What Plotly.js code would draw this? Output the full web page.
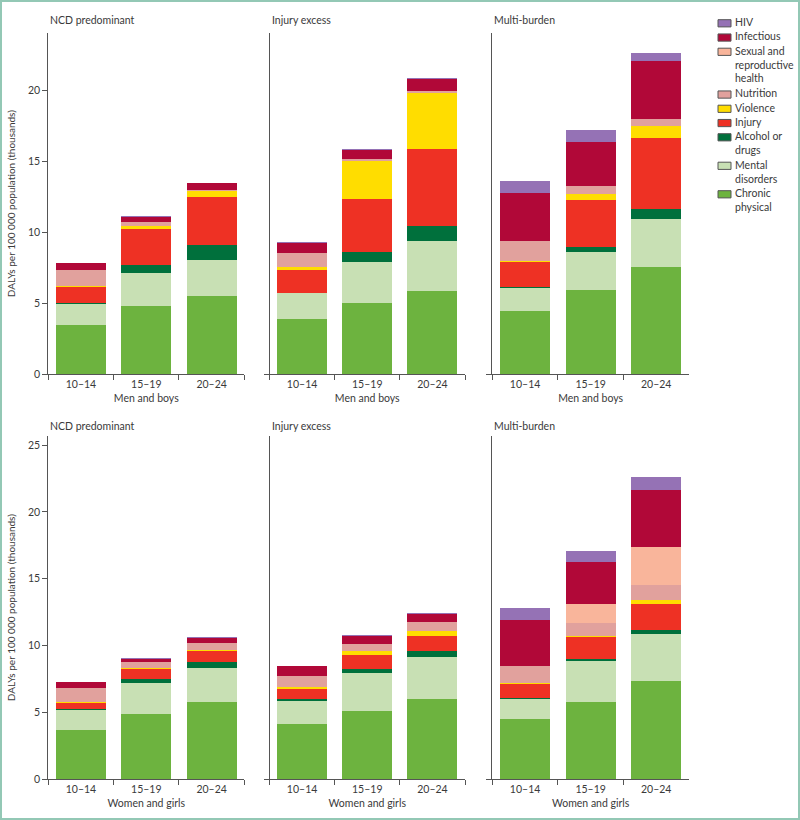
<!DOCTYPE html>
<html>
<head>
<meta charset="utf-8">
<script src="https://cdn.plot.ly/plotly-3.0.1.min.js"></script>
<style>
  html, body { margin: 0; padding: 0; background: #ffffff; }
  #chart { width: 800px; height: 820px; }
</style>
</head>
<body>
<div id="chart"></div>
<script>
// ---------------- DATA ----------------
const ages = ['10–14', '15–19', '20–24'];
const panelTitles = ['NCD predominant', 'Injury excess', 'Multi-burden',
                     'NCD predominant', 'Injury excess', 'Multi-burden'];
const sexLabels = ['Men and boys', 'Women and girls'];

// stacking order bottom -> top
const causes = ['Chronic physical', 'Mental disorders', 'Alcohol or drugs', 'Injury', 'Violence',
                'Nutrition', 'Sexual and reproductive health', 'Infectious', 'HIV'];
const legendLabels = ['Chronic<br>physical', 'Mental<br>disorders', 'Alcohol or<br>drugs', 'Injury', 'Violence',
                      'Nutrition', 'Sexual and<br>reproductive<br>health', 'Infectious', 'HIV'];

// DALYs per 100 000 (thousands); order of values:
// men NCD (3 ages), men injury excess, men multi-burden, women NCD, women injury excess, women multi-burden
const chronic   = [3.47, 4.81, 5.54,  3.89, 5.04, 5.85,  4.46, 5.94, 7.54,  3.69, 4.88, 5.76,  4.16, 5.08, 6.03,  4.49, 5.76, 7.35];
const mental    = [1.48, 2.30, 2.51,  1.81, 2.89, 3.52,  1.64, 2.65, 3.37,  1.50, 2.35, 2.59,  1.72, 2.89, 3.12,  1.54, 3.07, 3.52];
const alcohol   = [0.05, 0.59, 1.03,  0.05, 0.66, 1.10,  0.07, 0.37, 0.71,  0.05, 0.27, 0.45,  0.10, 0.28, 0.47,  0.05, 0.19, 0.32];
const injury    = [1.13, 2.51, 3.38,  1.60, 3.78, 5.40,  1.72, 3.29, 5.02,  0.49, 0.72, 0.77,  0.77, 1.02, 1.08,  1.02, 1.60, 1.94];
const violence  = [0.11, 0.26, 0.47,  0.23, 2.65, 3.92,  0.09, 0.45, 0.87,  0.08, 0.10, 0.10,  0.15, 0.30, 0.39,  0.08, 0.12, 0.28];
const nutrition = [1.11, 0.28, 0.05,  0.94, 0.16, 0.18,  1.43, 0.56, 0.49,  1.02, 0.43, 0.55,  0.85, 0.55, 0.65,  1.32, 0.95, 1.12];
const sexual    = [0.00, 0.00, 0.00,  0.00, 0.00, 0.00,  0.00, 0.00, 0.00,  0.00, 0.00, 0.00,  0.00, 0.00, 0.00,  0.00, 1.40, 2.87];
const infectious= [0.47, 0.33, 0.49,  0.70, 0.64, 0.80,  3.34, 3.12, 4.04,  0.42, 0.27, 0.35,  0.70, 0.60, 0.62,  3.39, 3.14, 4.24];
const hiv       = [0.03, 0.07, 0.03,  0.07, 0.07, 0.12,  0.86, 0.82, 0.59,  0.05, 0.08, 0.05,  0.05, 0.07, 0.10,  0.95, 0.87, 0.99];

const causeValues = [chronic, mental, alcohol, injury, violence, nutrition, sexual, infectious, hiv];
const causeColors = ['#6db33f', '#c8e0b4', '#00703c', '#ee3124', '#ffdd00',
                     '#e1a19d', '#f9b59b', '#b10838', '#9572b5'];

// ---------------- LAYOUT HELPERS ----------------
const W = 800, H = 820;
const px = v => v / W;
const py = v => (H - v) / H;
const colDomains = [[px(48.3), px(244.3)], [px(269.5), px(465)], [px(492.3), px(689)]];
const rowDomains = [[py(374.3), py(33)], [py(779.3), py(436)]];
const rowRanges = [[0, 24.03], [0, 25.68]];
const rowTicks = [[0, 5, 10, 15, 20], [0, 5, 10, 15, 20, 25]];
const titleY = [py(20), py(425.5)];

const FONT = 'Lato, "Noto Sans", sans-serif';
const TXT = '#3a3a3a';
const AX = '#555555';

const traces = [];
const layout = {
  width: W, height: H,
  margin: {l: 0, r: 0, t: 0, b: 0},
  paper_bgcolor: '#ffffff', plot_bgcolor: '#ffffff',
  barmode: 'stack',
  bargap: 0.235,
  showlegend: false,
  font: {family: FONT, size: 10.5, color: TXT},
  annotations: [],
  shapes: []
};

for (let p = 0; p < 6; p++) {
  const row = Math.floor(p / 3), col = p % 3;
  const sfx = p === 0 ? '' : String(p + 1);
  const xa = 'x' + sfx, ya = 'y' + sfx;
  causeValues.forEach((vals, c) => {
    traces.push({
      type: 'bar',
      x: ages,
      y: vals.slice(p * 3, p * 3 + 3),
      name: causes[c],
      xaxis: xa, yaxis: ya,
      marker: {color: causeColors[c], line: {width: 0}},
      hovertemplate: causes[c] + ': %{y}<extra></extra>'
    });
  });
  layout['xaxis' + sfx] = {
    domain: colDomains[col],
    anchor: ya,
    type: 'category',
    range: [-0.5, 2.5],
    tickson: 'boundaries',
    ticks: 'outside', ticklen: 5, tickcolor: AX, tickwidth: 1,
    showline: true, linecolor: AX, linewidth: 1,
    showgrid: false, zeroline: false,
    tickfont: {family: FONT, size: 10.5, color: TXT},
    title: {text: sexLabels[row], standoff: 5, font: {family: FONT, size: 10.5, color: TXT}},
    automargin: false,
    fixedrange: true
  };
  layout['yaxis' + sfx] = {
    domain: rowDomains[row],
    anchor: xa,
    range: rowRanges[row],
    tickmode: 'array',
    tickvals: col === 0 ? rowTicks[row] : [0],
    showticklabels: col === 0,
    ticks: 'outside', ticklen: 5, tickcolor: AX, tickwidth: 1,
    showline: true, linecolor: AX, linewidth: 1,
    showgrid: false, zeroline: false,
    tickfont: {family: FONT, size: 10.5, color: TXT},
    title: col === 0 ? {text: 'DALYs per 100 000 population (thousands)', standoff: 10,
                        font: {family: FONT, size: 10, color: TXT}} : {text: ''},
    automargin: false,
    fixedrange: true
  };
  layout.annotations.push({
    text: panelTitles[p], xref: xa + ' domain', yref: 'paper',
    x: 0, y: titleY[row], xanchor: 'left', yanchor: 'middle',
    showarrow: false, font: {family: FONT, size: 10.5, color: TXT}
  });
}

// ---------------- LEGEND (top -> bottom = reverse stacking order) ----------------
let lineIdx = 0;
for (let c = causes.length - 1; c >= 0; c--) {
  const cy = 23.3 + 14.25 * lineIdx;
  layout.shapes.push({
    type: 'rect', xref: 'paper', yref: 'paper',
    x0: px(718), x1: px(731), y0: py(cy + 3.6), y1: py(cy - 3.6),
    fillcolor: causeColors[c], line: {color: '#555555', width: 1}
  });
  layout.annotations.push({
    text: legendLabels[c], xref: 'paper', yref: 'paper',
    x: px(733), y: py(cy - 9.2), xanchor: 'left', yanchor: 'top', align: 'left',
    showarrow: false, font: {family: FONT, size: 10.5, color: TXT}
  });
  lineIdx += legendLabels[c].split('<br>').length;
}

// figure frame
layout.shapes.push({
  type: 'rect', xref: 'paper', yref: 'paper', x0: 0, x1: 1, y0: 0, y1: 1,
  line: {color: '#93c8b5', width: 4}, fillcolor: 'rgba(0,0,0,0)', layer: 'above'
});

Plotly.newPlot('chart', traces, layout, {displayModeBar: false, staticPlot: true});
</script>
</body>
</html>
